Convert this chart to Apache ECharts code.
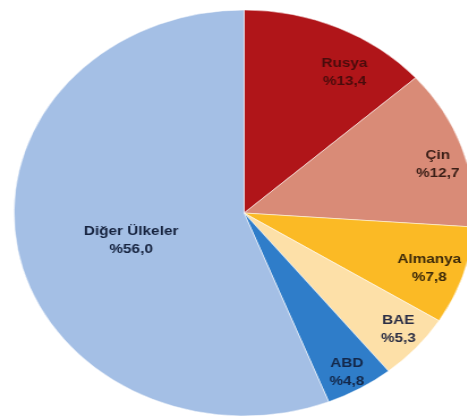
<!DOCTYPE html>
<html><head><meta charset="utf-8">
<script src="https://cdn.jsdelivr.net/npm/echarts@6/dist/echarts.min.js"></script>
<style>
html,body{margin:0;padding:0;background:#fff;overflow:hidden;width:467px;height:419px;}
#c{position:absolute;left:0;top:0;width:412px;height:419px;transform:scaleX(1.133);transform-origin:0 0;}
</style></head>
<body><div id="c"></div>
<script>
const categories = ['Rusya', 'Çin', 'Almanya', 'BAE', 'ABD', 'Diğer Ülkeler'];
const values = [13.4, 12.7, 7.8, 5.3, 4.8, 56.0];

const sliceColors = ['#b01519', '#d98b77', '#fbba25', '#fde0a8', '#2f7dc9', '#a4bfe5'];
const textColors = ['#4a0c0c', '#3b1f17', '#3d2a0a', '#2b2e45', '#14284a', '#16233f'];
const labelOffsets = [[46, -45], [72, -15], [64, 23], [58, 47], [38, 69], [3, 8]];

const data = categories.map((name, i) => ({
  name: name,
  value: values[i],
  itemStyle: { color: sliceColors[i] },
  label: { color: textColors[i], offset: labelOffsets[i] }
}));

const chart = echarts.init(document.getElementById('c'), null, { renderer: 'canvas' });
chart.setOption({
  animation: false,
  series: [{
    type: 'pie',
    center: [215.4, 213],
    radius: [0, 203],
    startAngle: 90,
    clockwise: true,
    avoidLabelOverlap: false,
    itemStyle: { borderColor: 'rgba(255,255,255,0.5)', borderWidth: 1 },
    label: {
      show: true,
      position: 'inside',
      fontFamily: 'Liberation Sans, Arial, sans-serif',
      fontWeight: 'bold',
      fontSize: 13.5,
      lineHeight: 18,
      align: 'center',
      formatter: p => p.name + '\n%' + p.value.toFixed(1).replace('.', ',')
    },
    labelLine: { show: false },
    emphasis: { disabled: true },
    data: data
  }]
});
</script></body></html>
